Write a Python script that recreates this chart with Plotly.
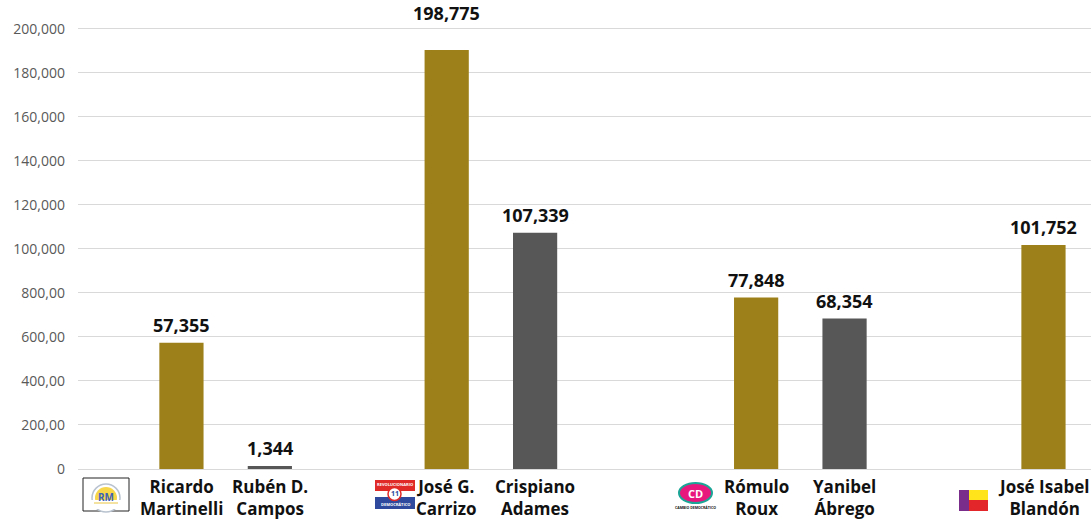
import plotly.graph_objects as go

# ---------------- data ----------------
candidates = ["Ricardo<br>Martinelli", "Rubén D.<br>Campos", "José G.<br>Carrizo",
              "Crispiano<br>Adames", "Rómulo<br>Roux", "Yanibel<br>Ábrego",
              "José Isabel<br>Blandón"]
votes = [57355, 1344, 198775, 107339, 77848, 68354, 101752]
vote_labels = ["57,355", "1,344", "198,775", "107,339", "77,848", "68,354", "101,752"]
# bar heights as drawn in the picture (the Carrizo bar is drawn shorter than its label)
bar_heights = [57355, 1344, 190300, 107339, 77848, 68354, 101752]
alliance = [True, False, True, False, True, False, True]

ytick_vals = [0, 20000, 40000, 60000, 80000, 100000, 120000, 140000, 160000, 180000, 200000]
ytick_text = ["0", "200,00", "400,00", "600,00", "800,00", "100,000", "120,000",
              "140,000", "160,000", "180,000", "200,000"]

# ---------------- layout helpers ----------------
gap_slots = [4, 8, 4, 10, 4, 9]   # empty slots between consecutive candidates
order = []
for i, c in enumerate(candidates):
    order.append(c)
    if i < len(gap_slots):
        for k in range(gap_slots[i] - 1):
            order.append(f"_gap{i}_{k}")

GOLD = "#9d8019"
GRAY = "#575757"
FONT = "Open Sans"

L, R, T, B = 78, 1091, 20, 469
W_PX, H_PX = 1091, 519


def px_x(px):
    return (px - L) / (R - L)


def px_y(py):
    return (B - py) / (B - T)


fig = go.Figure()

gold_x = [c for c, a in zip(candidates, alliance) if a]
gold_y = [h for h, a in zip(bar_heights, alliance) if a]
gray_x = [c for c, a in zip(candidates, alliance) if not a]
gray_y = [h for h, a in zip(bar_heights, alliance) if not a]

fig.add_trace(go.Bar(x=gold_x, y=gold_y, width=2.0, marker_color=GOLD,
                     marker_line_width=0, hoverinfo="skip", showlegend=False))
fig.add_trace(go.Bar(x=gray_x, y=gray_y, width=2.0, marker_color=GRAY,
                     marker_line_width=0, hoverinfo="skip", showlegend=False))

annotations = []
# value labels above bars
for c, v, lab in zip(candidates, votes, vote_labels):
    annotations.append(dict(x=c, xref="x", y=v, yref="y", text=f"<b>{lab}</b>",
                            showarrow=False, yanchor="bottom", xanchor="center",
                            yshift=4,
                            font=dict(family=FONT, size=18, color="#111111")))

# candidate names under bars
for c in candidates:
    annotations.append(dict(x=c, xref="x", y=px_y(473), yref="paper",
                            text=f"<b>{c}</b>", showarrow=False, yanchor="top",
                            xanchor="center", align="center",
                            font=dict(family=FONT, size=17, color="#111111")))

shapes = []


def rect(x0, y0, x1, y1, fill, line=None, lw=0):
    shapes.append(dict(type="rect", xref="paper", yref="paper",
                       x0=px_x(x0), x1=px_x(x1), y0=px_y(y1), y1=px_y(y0),
                       fillcolor=fill, line=dict(color=line or fill, width=lw),
                       layer="above"))


def circ(x0, y0, x1, y1, fill, line=None, lw=0):
    shapes.append(dict(type="circle", xref="paper", yref="paper",
                       x0=px_x(x0), x1=px_x(x1), y0=px_y(y1), y1=px_y(y0),
                       fillcolor=fill, line=dict(color=line or fill, width=lw),
                       layer="above"))


def txt(x, y, s, size, color, bold=False):
    annotations.append(dict(x=px_x(x), y=px_y(y), xref="paper", yref="paper",
                            text=f"<b>{s}</b>" if bold else s, showarrow=False,
                            xanchor="center", yanchor="middle",
                            font=dict(family=FONT, size=size, color=color)))


# RM logo
rect(83, 478, 129, 511, "white", "#222222", 1)
circ(92, 484, 120, 512, "white", "#b9c3cf", 1.5)
circ(95, 487, 117, 509, "#f7d64a", "#f7d64a", 0)
rect(85, 500, 127, 509, "white")
txt(106, 497, "RM", 10, "#3d63b8", True)
rect(94, 502.5, 118, 503.5, "#e8c542")

# PRD flag
rect(375, 480, 415, 491, "#e02a27")
rect(375, 491, 415, 497, "white")
rect(375, 497, 415, 509, "#2f4a9c")
circ(388, 487.5, 401, 500.5, "white", "#e02a27", 1.5)
txt(394.5, 494, "11", 7, "#2f4a9c", True)
txt(395, 484.5, "REVOLUCIONARIO", 4, "white", True)
txt(395, 504.5, "DEMOCRÁTICO", 4, "white", True)

# CD logo
circ(679, 483, 712, 503, "#e8177e", "#1aa597", 2)
txt(695.5, 493, "CD", 11, "white", True)
txt(695, 507.5, "CAMBIO DEMOCRÁTICO", 3.5, "#111111", True)

# José Isabel logo
rect(959, 490, 969, 511, "#7b2d8c")
rect(969, 490, 988, 500, "#ffe31b")
rect(969, 500, 988, 511, "#e2262a")

fig.update_layout(
    width=W_PX, height=H_PX,
    margin=dict(l=L, r=W_PX - R, t=T, b=H_PX - B, pad=0),
    paper_bgcolor="white", plot_bgcolor="white",
    barmode="overlay",
    showlegend=False,
    annotations=annotations,
    shapes=shapes,
    xaxis=dict(type="category", categoryorder="array", categoryarray=order,
               range=[-4.68, 41.15], showticklabels=False, showgrid=False,
               zeroline=False, showline=False, ticks="", fixedrange=True),
    yaxis=dict(range=[0, (B - T) / 2.2015 * 1000], tickvals=ytick_vals, ticktext=ytick_text,
               showgrid=True, gridcolor="#d9d9d9", gridwidth=1,
               zeroline=True, zerolinecolor="#d9d9d9", zerolinewidth=1,
               showline=False, ticks="", ticklabelstandoff=12,
               tickfont=dict(family=FONT, size=14, color="#595959"), fixedrange=True),
)

fig.write_html(
    "out.html",
    config={"displayModeBar": False},
    post_script="document.body.style.margin='0';document.body.style.overflow='hidden';",
)
